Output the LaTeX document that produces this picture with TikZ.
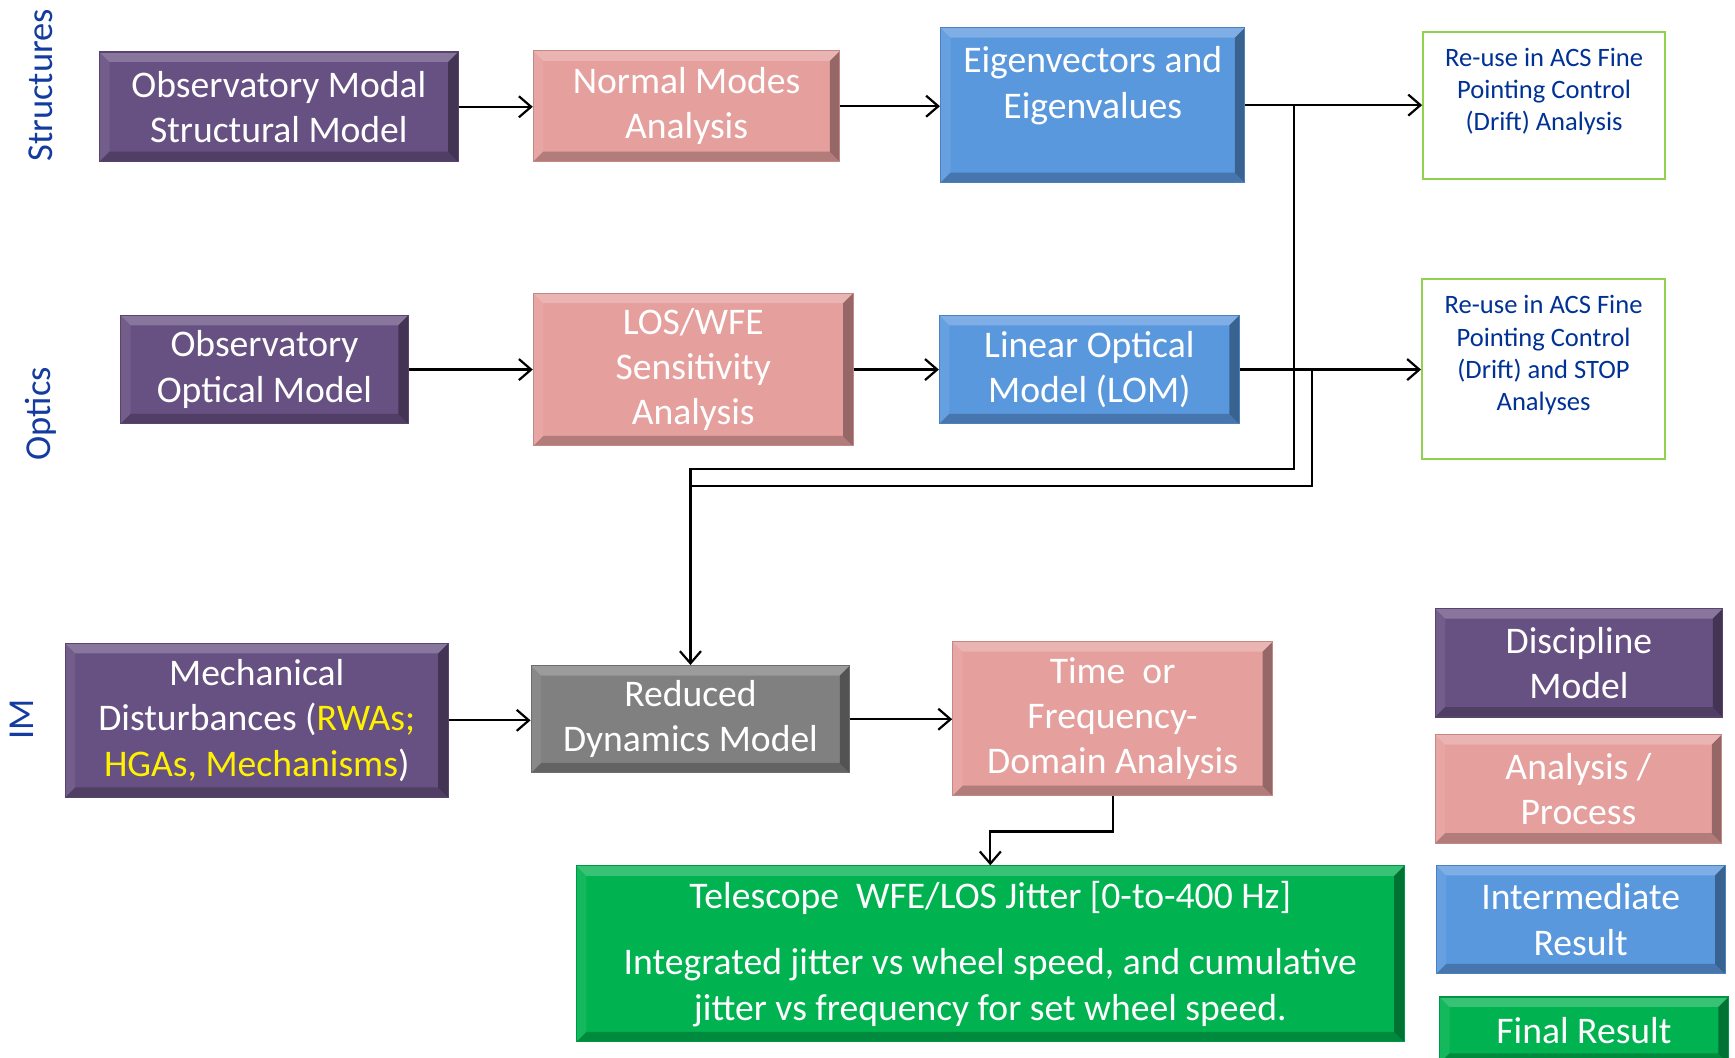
\documentclass[tikz,border=0pt]{standalone}
\usepackage{fontspec}
\setmainfont{Carlito}
\usetikzlibrary{arrows.meta,calc}
\definecolor{purp}{RGB}{103,80,130}
\definecolor{pinkc}{RGB}{229,159,157}
\definecolor{bluec}{RGB}{90,152,222}
\definecolor{grayc}{RGB}{128,128,128}
\definecolor{greenc}{RGB}{0,178,80}
\definecolor{labblue}{RGB}{20,60,160}
\definecolor{reblue}{RGB}{0,50,150}
\definecolor{lgreen}{RGB}{146,208,80}
\tikzset{
  bevel/.style={path picture={
    \path (path picture bounding box.north west) coordinate (pA)
          (path picture bounding box.north east) coordinate (pB)
          (path picture bounding box.south east) coordinate (pC)
          (path picture bounding box.south west) coordinate (pD);
    \fill[white,opacity=.22] (pA) -- (pB) -- ([shift={(-9pt,-9pt)}]pB) -- ([shift={(9pt,-9pt)}]pA) -- cycle;
    \fill[white,opacity=.08] (pA) -- ([shift={(9pt,-9pt)}]pA) -- ([shift={(9pt,9pt)}]pD) -- (pD) -- cycle;
    \fill[black,opacity=.22] (pD) -- (pC) -- ([shift={(-9pt,9pt)}]pC) -- ([shift={(9pt,9pt)}]pD) -- cycle;
    \fill[black,opacity=.35] (pB) -- (pC) -- ([shift={(-9pt,9pt)}]pC) -- ([shift={(-9pt,-9pt)}]pB) -- cycle;
  }},
  box/.style={rectangle, inner sep=0pt, align=center, text=white,
    font=\fontsize{34}{41}\selectfont, bevel, draw=#1!85!black, fill=#1, line width=1pt},
  reuse/.style={rectangle, inner sep=0pt, align=center, text=reblue,
    font=\fontsize{24}{29}\selectfont, draw=lgreen, line width=1.5pt, fill=white},
  side/.style={rotate=90, text=labblue, font=\fontsize{33}{40}\selectfont},
  conn/.style={line width=2pt, draw=black},
  arr/.style={conn, -{Straight Barb[length=11pt,width=19pt,line width=2pt]}},
}
\begin{document}
\begin{tikzpicture}[x=1pt,y=-1pt]
\useasboundingbox (0,0) rectangle (1568,956);
\clip (0,0) rectangle (1568,956);
\fill[white] (0,0) rectangle (1568,956);

% side labels
\node[side] (lstruct) at (37,77) {Structures};
\node[side] (loptics) at (37,374) {Optics};
\node[side] (lim) at (20,650) {IM};

% row 1
\node[box=purp, minimum width=324pt, minimum height=99pt] (osm) at (252,96.5) {Observatory Modal\\Structural Model};
\node[box=pinkc, minimum width=277pt, minimum height=100pt] (nma) at (620.5,96) {Normal Modes\\Analysis};
\node[box=bluec, minimum width=275pt, minimum height=140pt] (eig) at (987.5,95) {Eigenvectors and\\Eigenvalues\\~};
\node[reuse, minimum width=219pt, minimum height=133pt] (re1) at (1395.5,95.5) {Re-use in ACS Fine\\Pointing Control\\(Drift) Analysis\\~};

% row 2
\node[box=purp, minimum width=260pt, minimum height=98pt] (oom) at (239,334) {Observatory\\Optical Model};
\node[box=pinkc, minimum width=289pt, minimum height=138pt] (los) at (626.5,334) {LOS/WFE\\Sensitivity\\Analysis};
\node[box=bluec, minimum width=271pt, minimum height=98pt] (lom) at (984.5,334) {Linear Optical\\Model (LOM)};
\node[reuse, minimum width=220pt, minimum height=163pt] (re2) at (1395,333.5) {Re-use in ACS Fine\\Pointing Control\\(Drift) and STOP\\Analyses\\~};

% row 3
\node[box=purp, minimum width=346pt, minimum height=139pt] (mech) at (232,651) {Mechanical\\Disturbances (\textcolor{yellow}{RWAs;}\\\textcolor{yellow}{HGAs, Mechanisms})};
\node[box=grayc, minimum width=288pt, minimum height=97pt] (rdm) at (624,650) {Reduced\\Dynamics Model};
\node[box=pinkc, minimum width=289pt, minimum height=139pt] (tfd) at (1005.5,649.5) {Time\ \ or\\Frequency-\\Domain Analysis};
\node[box=greenc, minimum width=748pt, minimum height=159pt] (tel) at (895,862) {Telescope\ \ WFE/LOS Jitter [0-to-400 Hz]\\[19pt]Integrated jitter vs wheel speed, and cumulative\\jitter vs frequency for set wheel speed.};

% legend
\node[box=purp, minimum width=260pt, minimum height=98pt] (lg1) at (1427,599) {Discipline\\Model};
\node[box=pinkc, minimum width=259pt, minimum height=98pt] (lg2) at (1426.5,713) {Analysis /\\Process};
\node[box=bluec, minimum width=261pt, minimum height=98pt] (lg3) at (1428.5,831) {Intermediate\\Result};
\node[box=greenc, minimum width=261pt, minimum height=60pt] (lg4) at (1431.5,931) {Final Result};

% connectors
\draw[arr] (osm.east) -- (osm.east -| nma.west);
\draw[arr] (nma.east) -- (nma.east -| eig.west);
\draw[arr] (eig.east) -- (eig.east -| re1.west);
\draw[arr] (oom.east) -- (oom.east -| los.west);
\draw[arr] (los.east) -- (los.east -| lom.west);
\draw[arr] (lom.east) -- (lom.east -| re2.west);
\draw[arr] ($(eig.east)+(44,0)$) |- ($(rdm.north)+(0,-177)$) -- (rdm.north);
\draw[conn] ($(lom.east)+(65,0)$) |- ($(rdm.north)+(0,-162)$);
\draw[arr] (mech.east) -- (mech.east -| rdm.west);
\draw[arr] (rdm.east) -- (rdm.east -| tfd.west);
\draw[arr] (tfd.south) -- ++(0,32) -| (tel.north);
\end{tikzpicture}
\end{document}
